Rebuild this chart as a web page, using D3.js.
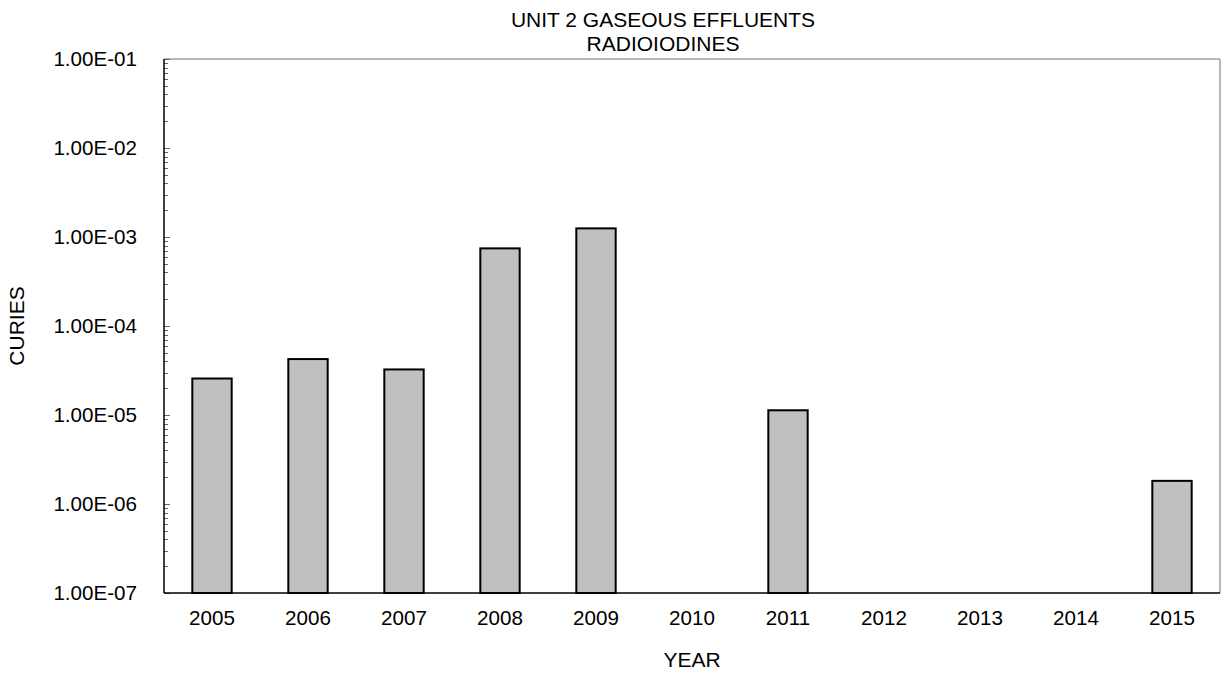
<!DOCTYPE html>
<html><head><meta charset="utf-8">
<script src="https://cdn.jsdelivr.net/npm/d3@7"></script>
<style>body{margin:0;background:#fff}svg{display:block}text{font-family:"Liberation Sans",Arial,sans-serif;fill:#000}</style>
</head><body>
<svg id="c" width="1221" height="673"></svg>
<script>
const years = ["2005","2006","2007","2008","2009","2010","2011","2012","2013","2014","2015"];
const curies = [2.57e-5, 4.25e-5, 3.25e-5, 7.45e-4, 1.25e-3, null, 1.13e-5, null, null, null, 1.82e-6];
const yTicks = [1e-7, 1e-6, 1e-5, 1e-4, 1e-3, 1e-2, 1e-1];
const titleLines = ["UNIT 2 GASEOUS EFFLUENTS", "RADIOIODINES"];

const FS = 20.6;
const svg = d3.select("#c");
const L = 164, R = 1220, T = 59, B = 593;
const x = d3.scaleBand().domain(years).range([L, R]).paddingInner(0.59).paddingOuter(0.295);
const y = d3.scaleLog().domain([1e-7, 1e-1]).range([B, T]);

svg.append("g").selectAll("rect").data(years.map((d,i)=>({yr:d,v:curies[i]})).filter(d=>d.v))
  .join("rect")
  .attr("x", d=>x(d.yr)).attr("width", x.bandwidth())
  .attr("y", d=>y(d.v)).attr("height", d=>B - y(d.v))
  .attr("fill", "#c0c0c0").attr("stroke", "#000").attr("stroke-width", 2);

svg.append("line").attr("x1",L).attr("x2",R).attr("y1",T).attr("y2",T).attr("stroke","#a0a0a0").attr("stroke-width",1.5);
svg.append("line").attr("x1",R).attr("x2",R).attr("y1",T).attr("y2",B).attr("stroke","#a0a0a0").attr("stroke-width",1.5);

const minors = [];
for (let e=-7; e<-1; e++) for (let m=2; m<=9; m++) minors.push(m*Math.pow(10,e));
svg.append("g").selectAll("line").data(minors).join("line")
  .attr("x1",L).attr("x2",L+4).attr("y1",d=>Math.round(y(d))+0.5).attr("y2",d=>Math.round(y(d))+0.5)
  .attr("stroke","#666").attr("stroke-width",1);
svg.append("g").selectAll("line").data(yTicks).join("line")
  .attr("x1",L).attr("x2",L+6).attr("y1",d=>Math.round(y(d))+0.5).attr("y2",d=>Math.round(y(d))+0.5)
  .attr("stroke","#666").attr("stroke-width",1);

const yAxis = d3.axisLeft(y).tickValues(yTicks).tickSize(0).tickPadding(27)
  .tickFormat(d=>{const e=Math.round(Math.log10(d)); return "1.00E-" + String(-e).padStart(2,"0");});
const gy = svg.append("g").attr("transform",`translate(${L},0)`).call(yAxis);
gy.select(".domain").remove();
gy.selectAll("text").attr("font-size",FS).attr("font-family","Liberation Sans, Arial, sans-serif").attr("fill","#000");

const xAxis = d3.axisBottom(x).tickSize(0).tickPadding(17);
const gx = svg.append("g").attr("transform",`translate(0,${B})`).call(xAxis);
gx.select(".domain").remove();
gx.selectAll("text").attr("font-size",FS).attr("font-family","Liberation Sans, Arial, sans-serif").attr("fill","#000");

svg.append("line").attr("x1",L).attr("x2",L).attr("y1",T).attr("y2",B).attr("stroke","#000").attr("stroke-width",1.5);
svg.append("line").attr("x1",L).attr("x2",R).attr("y1",B).attr("y2",B).attr("stroke","#000").attr("stroke-width",1.5);

svg.append("g").selectAll("text").data(titleLines).join("text")
  .attr("x",663).attr("y",(d,i)=>27+i*24).attr("text-anchor","middle").attr("font-size",21).text(d=>d);
svg.append("text").attr("x",692).attr("y",667).attr("text-anchor","middle").attr("font-size",21).text("YEAR");
svg.append("text").attr("transform","translate(24,326) rotate(-90)").attr("text-anchor","middle").attr("font-size",21).text("CURIES");
</script>
</body></html>
